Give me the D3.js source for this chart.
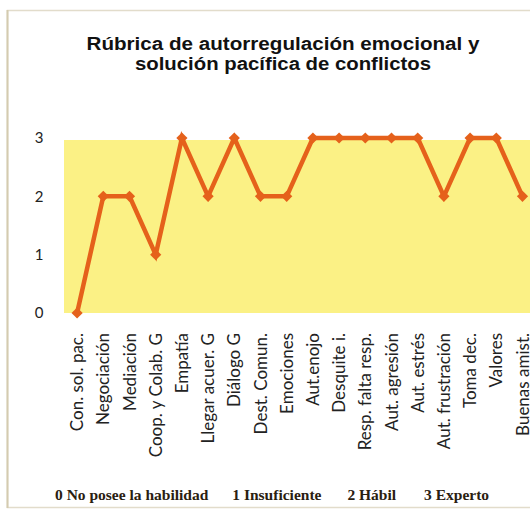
<!DOCTYPE html>
<html><head><meta charset="utf-8">
<script src="https://cdn.jsdelivr.net/npm/d3@7"></script>
<style>
html,body{margin:0;padding:0;background:#fff;}
svg{display:block;}
</style></head>
<body>
<svg id="chart" width="530" height="516"></svg>
<script>
const titleLines = ["Rúbrica de autorregulación emocional y", "solución pacífica de conflictos"];
const categories = ["Con. sol. pac.", "Negociación", "Mediación", "Coop. y Colab. G", "Empatía", "Llegar acuer. G", "Diálogo G", "Dest. Comun.", "Emociones", "Aut.enojo", "Desquite i.", "Resp. falta resp.", "Aut. agresión", "Aut. estrés", "Aut. frustración", "Toma dec.", "Valores", "Buenas amist."];
const values = [0, 2, 2, 1, 3, 2, 3, 2, 2, 3, 3, 3, 3, 3, 2, 3, 3, 2];
const yTicks = [0, 1, 2, 3];
const legendItems = ["0 No posee la habilidad", "1 Insuficiente", "2 Hábil", "3 Experto"];

const svg = d3.select("#chart");

// frame
svg.append("rect").attr("x", 7.5).attr("y", 10.5).attr("width", 540).attr("height", 497)
  .attr("fill", "#fff").attr("stroke", "#e2dccb").attr("stroke-width", 1.5);
svg.append("line").attr("x1", 7.5).attr("x2", 7.5).attr("y1", 10).attr("y2", 508)
  .attr("stroke", "#d4cbb0").attr("stroke-width", 2);

// title
const titleWidths = [393, 296];
svg.append("text").attr("x", 283).attr("y", 50).attr("text-anchor", "middle")
  .attr("font-family", "Liberation Sans, Arial, sans-serif").attr("font-weight", "bold")
  .attr("font-size", 17.5).attr("fill", "#111")
  .selectAll("tspan").data(titleLines).join("tspan")
  .attr("x", 283).attr("dy", (d, i) => i === 0 ? 0 : 20)
  .attr("textLength", (d, i) => titleWidths[i]).attr("lengthAdjust", "spacingAndGlyphs")
  .text(d => d);

const x = d3.scaleBand().domain(categories).range([64, 64 + categories.length * 26.2]).padding(0);
const y = d3.scaleLinear().domain([0, 3]).range([313, 138]);

// plot area
svg.append("rect").attr("x", 64).attr("y", y(3) + 2).attr("width", 480).attr("height", y(0) - y(3) - 2)
  .attr("fill", "#fbf185");

// y axis labels
const yAxis = d3.axisLeft(y).tickValues(yTicks).tickFormat(d3.format("d")).tickSize(0).tickPadding(0);
const yg = svg.append("g").attr("transform", "translate(44,0)").call(yAxis);
yg.select(".domain").remove();
yg.selectAll("text").attr("font-family", "Lato, Calibri, sans-serif").attr("font-size", 15).attr("fill", "#222")
  .attr("text-anchor", "middle").attr("x", -5);

// x axis labels
const xAxis = d3.axisBottom(x).tickSize(0).tickPadding(0);
const xg = svg.append("g").attr("transform", "translate(0,333)").call(xAxis);
xg.select(".domain").remove();
xg.selectAll("text").attr("font-family", "Lato, Calibri, sans-serif").attr("font-size", 17).attr("fill", "#222")
  .attr("text-anchor", "end").attr("transform", "rotate(-90)")
  .attr("x", 0).attr("y", 0).attr("dy", "0.36em");

// line
const cx = d => x(d) + x.bandwidth() / 2;
const line = d3.line().x((d, i) => cx(categories[i])).y(d => y(d));
svg.append("path").datum(values).attr("d", line).attr("fill", "none")
  .attr("stroke", "#e5611b").attr("stroke-width", 4.5).attr("stroke-linejoin", "miter");

// diamond markers
svg.selectAll(".mk").data(values).join("path").attr("class", "mk")
  .attr("d", d3.symbol().type(d3.symbolDiamond2).size(80))
  .attr("transform", (d, i) => `translate(${cx(categories[i])},${y(d)})`)
  .attr("fill", "#e5611b");

// legend
const lg = svg.append("g").attr("font-family", "Liberation Serif, Cambria, serif").attr("font-weight", "bold")
  .attr("font-size", 15.5).attr("fill", "#2a2010");
let lx = 55;
const gaps = [24, 26, 28];
legendItems.forEach((t, i) => {
  const tx = lg.append("text").attr("x", lx).attr("y", 500).text(t);
  lx += tx.node().getComputedTextLength() + (gaps[i] || 0);
});
</script>
</body></html>
